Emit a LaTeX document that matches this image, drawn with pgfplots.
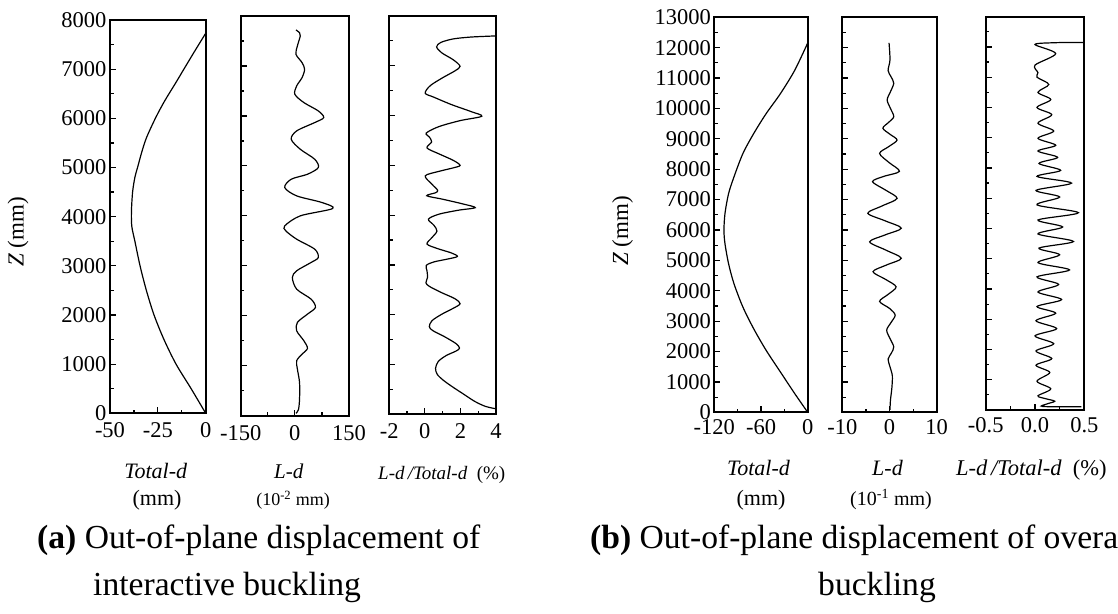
\documentclass[border=0pt]{standalone}
\usepackage{fontspec}
\setmainfont{Liberation Serif}
\usepackage{pgfplots}
\pgfplotsset{compat=1.18}
\pgfplotsset{
  panel/.style={
    scale only axis, anchor=south west,
    axis line style={line width=1.8pt},
    tick style={black, line width=1.2pt},
    tick pos=left, tick align=inside,
    major tick length=6pt, minor tick length=3.5pt,
    tick label style={font=\fontsize{22.5}{24}\selectfont},
    /pgf/number format/assume math mode=true,
    /pgf/number format/1000 sep={},
    scaled ticks=false,
    minor x tick num=1, minor y tick num=1,
    ymin=0,
  },
  pa/.style={panel, ymax=8000, ytick={0,1000,...,8000}, xticklabel style={yshift=-6pt}},
  pb/.style={panel, ymax=13000, ytick={0,1000,...,13000}, xticklabel style={yshift=-4pt}},
  curve/.style={black, line width=1.2pt, smooth, tension=0.5},
}
\newcommand{\fs}[1]{\fontsize{#1}{#1}\selectfont}
\begin{document}
\begin{tikzpicture}
\useasboundingbox (0,0) rectangle (1118pt,613pt);
\clip (0,0) rectangle (1118pt,613pt);
% ---------------- (a) ----------------
\begin{axis}[pa, at={(110pt,199.7pt)}, width=95.7pt, height=393.3pt,
  xmin=-50, xmax=0, xtick={-50,-25,0}, xticklabels={-50,-25,0}]
\addplot[curve] coordinates {
(0,0) (-7.6,500) (-15.5,1000) (-21.8,1500) (-27,2000) (-31,2500) (-34.3,3000)
(-37,3500) (-38.6,3800) (-38.8,4100) (-38.2,4500) (-37,4800) (-35.6,5000)
(-33.5,5300) (-31,5600) (-26.3,6000) (-21.5,6350) (-16,6700) (-11.4,7000)
(-6,7350) (0,7730)};
\end{axis}
\begin{axis}[pa, at={(240.7pt,197.3pt)}, width=108.3pt, height=399.7pt,
  xmin=-150, xmax=150, xtick={-150,0,150}, xticklabels={-150,0,150}, yticklabels={}]
\addplot[curve] coordinates {
(3,47) (10,120) (13,333) (13,667) (7,933) (5,1100) (20,1233) (35,1347) (25,1500)
(5,1700) (7,1867) (35,2033) (57,2167) (45,2333) (5,2533) (-7,2767) (5,2900)
(45,3067) (65,3167) (55,3333) (5,3533) (-25,3700) (-28,3800) (15,4000) (105,4147)
(75,4267) (5,4400) (-28,4567) (-10,4733) (35,4833) (65,4967) (55,5133) (15,5333)
(-10,5533) (5,5700) (55,5867) (80,5967) (65,6100) (25,6267) (0,6433) (5,6600)
(20,6767) (27,6933) (20,7067) (3,7233) (7,7400) (15,7600) (13,7667) (3,7720)};
\end{axis}
\begin{axis}[pa, at={(389.3pt,198.7pt)}, width=106.7pt, height=398.3pt,
  xmin=-2, xmax=4, xtick={-2,0,2,4}, xticklabels={-2,0,2,4}, yticklabels={}]
\addplot[curve] coordinates {
(4.0,110) (3.4,160) (2.8,260) (2.2,400) (1.6,540) (1.05,680) (0.7,800) (0.6,920)
(0.75,1060) (1.2,1180) (1.75,1270) (1.95,1330) (1.75,1420) (1.1,1560) (0.45,1680)
(0.25,1760) (0.4,1880) (0.95,2010) (1.6,2130) (1.98,2220) (1.7,2320) (0.9,2450)
(0.25,2570) (0.06,2640) (0.15,2750) (0.12,2880) (0.08,2990) (0.5,3060) (1.3,3120)
(1.83,3170) (1.5,3240) (0.7,3330) (0.12,3420) (0.4,3550) (0.68,3680) (0.5,3800)
(0.2,3920) (0.8,4020) (1.9,4100) (2.83,4150) (2.2,4220) (1.0,4320) (0.1,4390)
(0.6,4450) (0.72,4500) (0.4,4620) (0.02,4790) (0.8,4880) (1.6,4950) (1.98,5000)
(1.6,5100) (0.8,5230) (0.12,5350) (0.38,5470) (0.25,5570) (0.08,5650) (0.8,5780)
(2.0,5900) (3.2,5987) (2.6,6080) (1.5,6220) (0.5,6370) (0.02,6450) (0.3,6600)
(1.0,6760) (1.7,6900) (1.98,6990) (1.6,7120) (0.95,7260) (0.66,7380) (0.9,7470)
(1.6,7540) (2.5,7575) (3.3,7590) (4.0,7600)};
\end{axis}
% ---------------- (b) ----------------
\begin{axis}[pb, at={(714.3pt,200.7pt)}, width=93.4pt, height=395pt,
  xmin=-120, xmax=0, xtick={-120,-60,0}, xticklabels={-120,-60,0}]
\addplot[curve] coordinates {
(0,0) (-16.9,624) (-35.3,1336) (-53.6,2048) (-69.6,2759) (-83.4,3471) (-94.8,4238)
(-101.7,4895) (-106.3,5552) (-107.6,5990) (-106.3,6537) (-101.7,7194) (-94.8,7742)
(-83.4,8508) (-69.6,9165) (-53.6,9822) (-35.3,10479) (-16.9,11246) (0,12155)};
\end{axis}
\begin{axis}[pb, at={(842.3pt,200.7pt)}, width=94.4pt, height=395pt,
  xmin=-10, xmax=10, xtick={-10,0,10}, xticklabels={-10,0,10}, yticklabels={}]
\addplot[curve] coordinates {
(0.1,80) (0.2,400) (0.5,800) (0.6,1200) (0.1,1500) (-0.3,1750) (0.4,1950) (0.9,2150)
(0.2,2400) (-0.6,2700) (0.3,2950) (1.2,3200) (0.0,3420) (-2.1,3650) (-0.3,3880)
(1.4,4130) (-0.9,4380) (-3.5,4630) (-0.6,4850) (2.5,5070) (-0.8,5340) (-4.2,5610)
(-0.9,5840) (2.5,6060) (-0.9,6300) (-4.6,6550) (-1.6,6790) (1.6,7040) (-0.8,7310)
(-3.6,7590) (-1.3,7760) (2.1,7930) (-0.1,8220) (-2.1,8520) (-0.2,8740) (1.6,8960)
(0.1,9150) (-1.4,9350) (-0.2,9540) (0.9,9730) (0.2,10000) (-0.5,10280) (0.2,10550)
(0.9,10830) (0.3,11050) (-0.3,11250) (0.1,11600) (-0.1,12160)};
\end{axis}
\begin{axis}[pb, at={(985.7pt,203pt)}, width=98.6pt, height=393.3pt,
  xmin=-0.5, xmax=0.5, xtick={-0.5,0,0.5}, xticklabels={-0.5,0.0,0.5}, yticklabels={}]
\addplot[black, line width=1.2pt, smooth, tension=0.5] coordinates {
(0.47,110) (0.08,115) (0.12,200) (0.2,290) (0.1,380) (0.03,470)
(0.16,700) (0.02,950) (0.15,1240) (0.01,1480) (0.17,1700) (0.01,1950) (0.19,2190)
(0.0,2450) (0.22,2690) (0.01,2950) (0.21,3200) (0.02,3420) (0.27,3650) (0.03,3900)
(0.24,4150) (0.02,4400) (0.35,4630) (0.03,4870) (0.25,5130) (0.04,5350) (0.39,5570)
(0.03,5820) (0.28,6050) (0.03,6280) (0.44,6520) (0.02,6780) (0.25,7040) (0.01,7260)
(0.37,7500) (0.02,7720) (0.26,7920) (0.04,8150) (0.23,8350) (0.03,8560) (0.21,8750)
(0.03,8980) (0.19,9220) (0.03,9480) (0.17,9760) (0.02,10000) (0.16,10260)
(0.03,10500) (0.14,10760) (0.02,11000) (0.03,11150) (0.0,11400) (0.21,11780)
(0.0,12080) (0.2,12140) (0.5,12150)};
\end{axis}
% ---------------- labels ----------------
\node[rotate=90, font=\fs{23}] at (18pt,381pt) {\textit{Z} (mm)};
\node[rotate=90, font=\fs{23}] at (622.5pt,382pt) {\textit{Z} (mm)};
\begin{scope}[every node/.style={inner sep=0pt}]
\node[anchor=base, font=\fs{22}] at (155.8pt,134pt) {\textit{Total-d}};
\node[anchor=base, font=\fs{22}] at (157pt,107pt) {(mm)};
\node[anchor=base, font=\fs{21}] at (288.7pt,134pt) {\textit{L-d}};
\node[anchor=base, font=\fs{18}] at (293pt,107pt) {(10\textsuperscript{-2} mm)};
\node[anchor=base west, font=\fs{19}] at (378pt,133pt) {\textit{L-d\,/Total-d}\ \ (\%)};
\node[anchor=base, font=\fs{22}] at (758.5pt,137pt) {\textit{Total-d}};
\node[anchor=base, font=\fs{22}] at (761pt,107pt) {(mm)};
\node[anchor=base, font=\fs{22}] at (887.5pt,137pt) {\textit{L-d}};
\node[anchor=base, font=\fs{20}] at (891pt,107pt) {(10\textsuperscript{-1} mm)};
\node[anchor=base west, font=\fs{22.5}] at (956pt,137pt) {\textit{L-d\,/Total-d}\ \ (\%)};
\node[anchor=base west, font=\fs{33.6}] at (37pt,65pt) {\textbf{(a)} Out-of-plane displacement of};
\node[anchor=base west, font=\fs{33.6}] at (93pt,18pt) {interactive buckling};
\node[anchor=base west, font=\fs{33.6}] at (590pt,65pt) {\textbf{(b)} Out-of-plane displacement of overall};
\node[anchor=base west, font=\fs{33.6}] at (818pt,18pt) {buckling};
\end{scope}
\end{tikzpicture}
\end{document}
